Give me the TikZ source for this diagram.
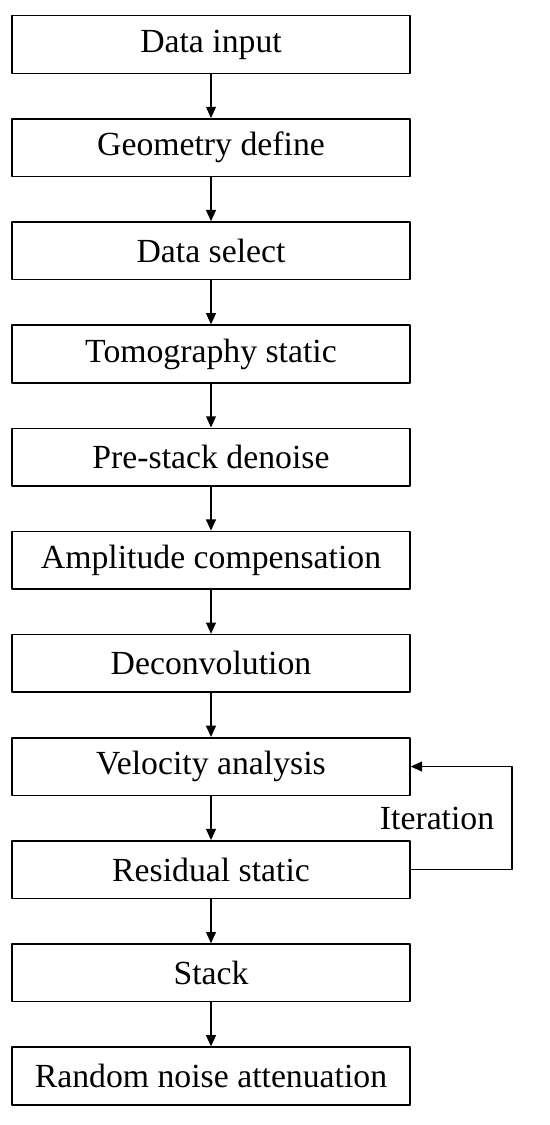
\documentclass[tikz,border=0pt]{standalone}
\usepackage{fontspec}
\setmainfont{Liberation Serif}
\usepackage{tikz}
\usetikzlibrary{arrows.meta}
\usetikzlibrary{positioning}

\tikzset{
  procbox/.style={draw,line width=1.1pt,minimum width=9.95cm,minimum height=1.44cm,inner sep=0pt,
    font=\fontsize{24}{28}\selectfont},
  flow/.style={line width=1.1pt,-{Triangle[length=8pt,width=7pt]}}
}

\begin{document}
\begin{tikzpicture}[line cap=round,line join=round,node distance=1.1cm,x=1.0cm,y=1.0cm]
\useasboundingbox (0,0) rectangle (13.75,-28.125);
%\draw[help lines] (0,0) grid (13.75,-28.125);
\node[procbox] (input) at (5.275,-1.1125) {Data input};
\node[procbox,below=of input] (geom) {Geometry define};
\node[procbox,below=of geom] (select) {Data select};
\node[procbox,below=of select] (tomo) {Tomography static};
\node[procbox,below=of tomo] (denoise) {Pre-stack denoise};
\node[procbox,below=of denoise] (ampl) {Amplitude compensation};
\node[procbox,below=of ampl] (decon) {Deconvolution};
\node[procbox,below=of decon] (velo) {Velocity analysis};
\node[procbox,below=of velo] (resid) {Residual static};
\node[procbox,below=of resid] (stack) {Stack};
\node[procbox,below=of stack] (random) {Random noise attenuation};
\draw[flow] (input) -- (geom);
\draw[flow] (geom) -- (select);
\draw[flow] (select) -- (tomo);
\draw[flow] (tomo) -- (denoise);
\draw[flow] (denoise) -- (ampl);
\draw[flow] (ampl) -- (decon);
\draw[flow] (decon) -- (velo);
\draw[flow] (velo) -- (resid);
\draw[flow] (resid) -- (stack);
\draw[flow] (stack) -- (random);
% iteration loop
\draw[flow] (resid.east) -- ++(2.525,0) |- (velo.east)
  node[pos=0.25,left=0.42cm,inner sep=0pt,font=\fontsize{24}{28}\selectfont] (iter) {Iteration};
\end{tikzpicture}
\end{document}
